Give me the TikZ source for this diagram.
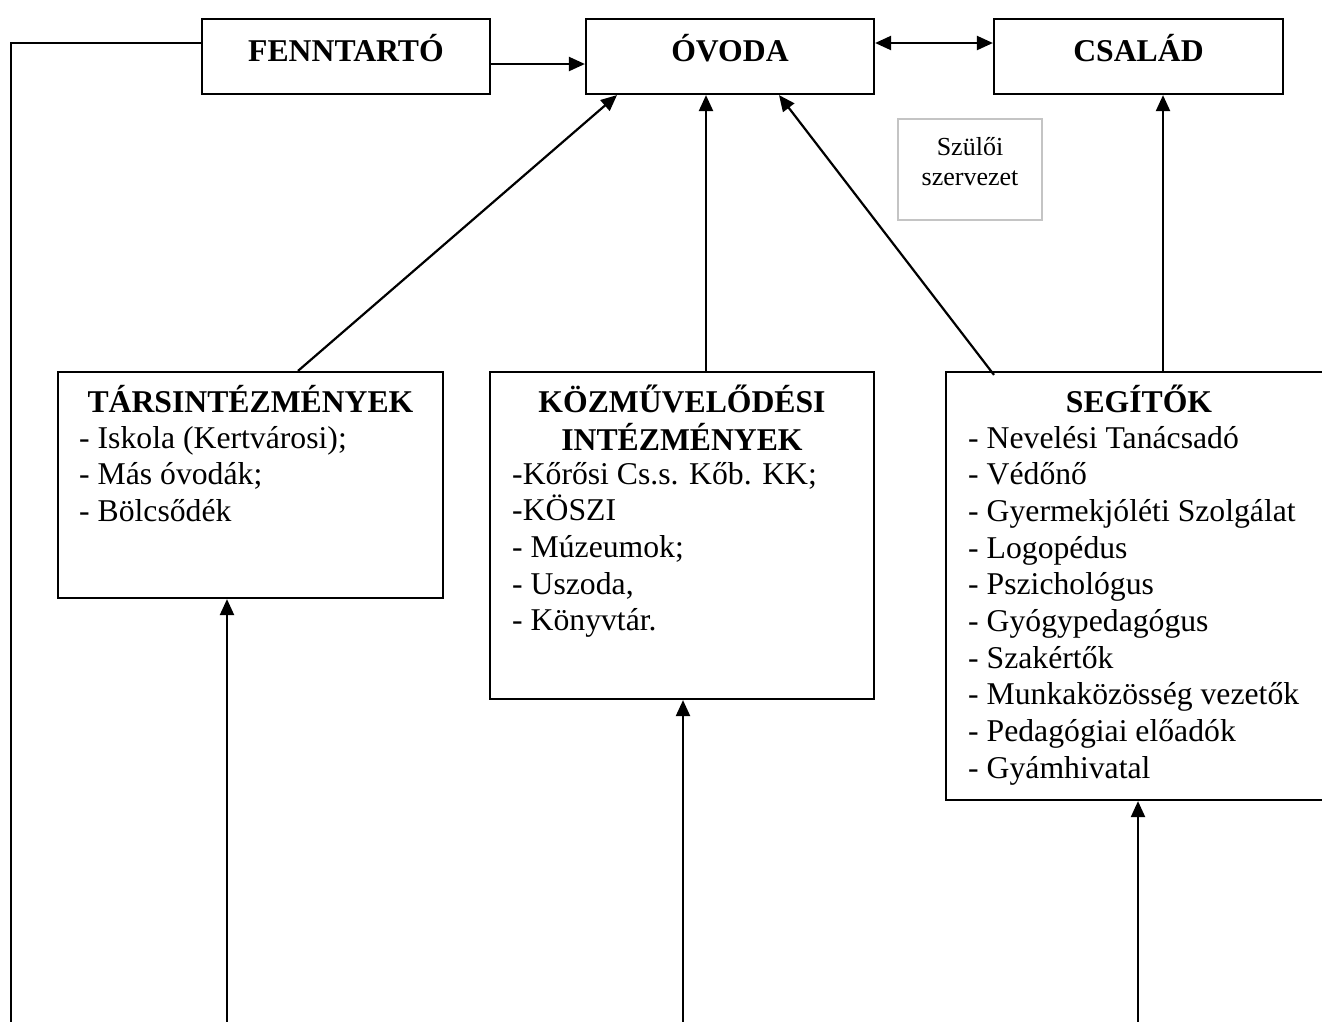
\documentclass[tikz,border=0pt]{standalone}
\usepackage{fontspec}
\setmainfont{Liberation Serif}
\usetikzlibrary{arrows.meta}
\definecolor{lightframe}{HTML}{C4C4C4}
\tikzset{
  box/.style={draw, rectangle, line width=2.2pt, inner sep=0pt},
  softbox/.style={draw=lightframe, rectangle, line width=1.8pt, inner sep=0pt},
  conn/.style={line width=2.2pt},
  arr/.style={conn, -{Triangle[length=16pt,width=14pt]}},
  dblarr/.style={conn, {Triangle[length=16pt,width=14pt]}-{Triangle[length=16pt,width=14pt]}},
  ttl/.style={anchor=base, inner sep=0pt, font=\fontsize{31.7}{36.7}\selectfont\bfseries},
  bdy/.style={anchor=base west, inner sep=0pt, font=\fontsize{31.7}{36.7}\selectfont},
  sm/.style={anchor=base, inner sep=0pt, font=\fontsize{26}{30.5}\selectfont}
}
\begin{document}
\begin{tikzpicture}[x=1pt,y=-1pt]
\useasboundingbox (0,0) rectangle (1322,1021);
% boxes
\node[box, minimum width=288pt, minimum height=75pt] (fen) at (346,56.5) {};
\node[box, minimum width=288pt, minimum height=75pt] (ovoda) at (730,56.5) {};
\node[box, minimum width=289pt, minimum height=75pt] (csalad) at (1138.5,56.5) {};
\node[softbox, minimum width=144pt, minimum height=101pt] (szulo) at (970,169.5) {};
\node[box, minimum width=385pt, minimum height=226pt] (tars) at (250.5,485) {};
\node[box, minimum width=384pt, minimum height=327pt] (kozm) at (682,535.5) {};
\node[box, minimum width=386pt, minimum height=428pt] (seg) at (1139,586) {};
% texts
\node[ttl] (tfen) at (346,61) {FENNTARTÓ};
\node[ttl] (tov) at (730,61) {ÓVODA};
\node[ttl] (tcs) at (1138.5,61) {CSALÁD};
\node[sm] (tsz) at (970,155) {\begin{tabular}[t]{@{}c@{}}Szülői\\szervezet\end{tabular}};
\node[ttl] (ttars) at (250.5,412) {TÁRSINTÉZMÉNYEK};
\node[bdy] (btars) at (79,448) {\begin{tabular}[t]{@{}l@{}}- Iskola (Kertvárosi);\\- Más óvodák;\\- Bölcsődék\end{tabular}};
\node[ttl] (tkozm) at (682,412) {\begin{tabular}[t]{@{}c@{}}KÖZMŰVELŐDÉSI\\INTÉZMÉNYEK\end{tabular}};
\node[bdy] (bkozm) at (512,484) {\begin{tabular}[t]{@{}l@{}}-Kőrősi Cs.s. Kőb. KK;\\-KÖSZI\\- Múzeumok;\\- Uszoda,\\- Könyvtár.\end{tabular}};
\node[ttl] (tseg) at (1139,412) {SEGÍTŐK};
\node[bdy] (bseg) at (968,448) {\begin{tabular}[t]{@{}l@{}}- Nevelési Tanácsadó\\- Védőnő\\- Gyermekjóléti Szolgálat\\- Logopédus\\- Pszichológus\\- Gyógypedagógus\\- Szakértők\\- Munkaközösség vezetők\\- Pedagógiai előadók\\- Gyámhivatal\end{tabular}};
% free ends
\coordinate (lc) at (11,43);
\coordinate (le) at (11,1026);
\coordinate (b1) at (227,1026);
\coordinate (b2) at (683,1026);
\coordinate (b3) at (1138,1026);
% connectors
\draw[conn] (fen.west |- lc) -- (lc) -- (le);
\draw[arr] ([yshift=-7.5pt]fen.east) -- ([yshift=-7.5pt]ovoda.west);
\draw[dblarr] ([yshift=13.5pt]ovoda.east) -- ([yshift=13.5pt]csalad.west);
\draw[arr] ([xshift=47.5pt]tars.north) -- ([xshift=-113pt]ovoda.south);
\draw[arr] ([xshift=24pt]kozm.north) -- ([xshift=-24pt]ovoda.south);
\draw[arr] ([xshift=-145pt,yshift=-4pt]seg.north) -- ([xshift=49pt]ovoda.south);
\draw[arr] ([xshift=24pt]seg.north) -- ([xshift=24.5pt]csalad.south);
\draw[arr] (b1) -- (b1 |- tars.south);
\draw[arr] (b2) -- (b2 |- kozm.south);
\draw[arr] (b3) -- (b3 |- seg.south);
\end{tikzpicture}
\end{document}
